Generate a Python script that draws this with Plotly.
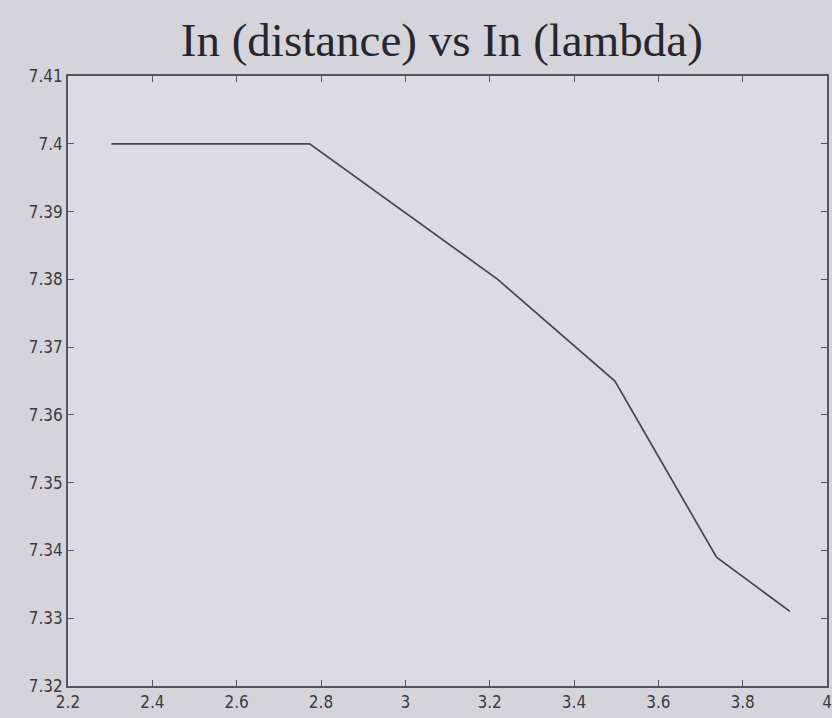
import plotly.graph_objects as go

ln_lambda = [2.303, 2.773, 3.219, 3.497, 3.738, 3.912]
ln_distance = [7.400, 7.400, 7.380, 7.365, 7.339, 7.331]

x_ticks = [2.2, 2.4, 2.6, 2.8, 3.0, 3.2, 3.4, 3.6, 3.8, 4.0]
y_ticks = [7.32, 7.33, 7.34, 7.35, 7.36, 7.37, 7.38, 7.39, 7.40, 7.41]

fig = go.Figure()
fig.add_trace(go.Scatter(x=ln_lambda, y=ln_distance, mode="lines",
                         line=dict(color="#45454d", width=1.7), showlegend=False))

axis_common = dict(showgrid=False, zeroline=False, showline=True, mirror="ticks",
                   linecolor="#55555c", linewidth=1.6, ticks="inside", ticklen=6,
                   tickcolor="#55555c", automargin=False,
                   tickfont=dict(family="Liberation Sans Narrow, DejaVu Sans Condensed, Arial", size=17, color="#3a3a42"))

fig.update_layout(
    width=832, height=718,
    margin=dict(l=68, r=5, t=76, b=32),
    paper_bgcolor="#d5d4db",
    plot_bgcolor="#dcdbe2",
    title=dict(text="In (distance) vs In (lambda)", x=0.531, xanchor="center", y=0.945, yanchor="middle",
               font=dict(family="Liberation Serif, DejaVu Serif, serif", size=47, color="#26262e")),
    xaxis=dict(range=[2.2, 4.0], tickvals=x_ticks, **axis_common),
    yaxis=dict(range=[7.32, 7.41], tickvals=y_ticks, **axis_common),
)

fig.write_html("out.html", config={"displayModeBar": False},
               post_script="document.body.style.margin='0';document.body.style.overflow='hidden';")
